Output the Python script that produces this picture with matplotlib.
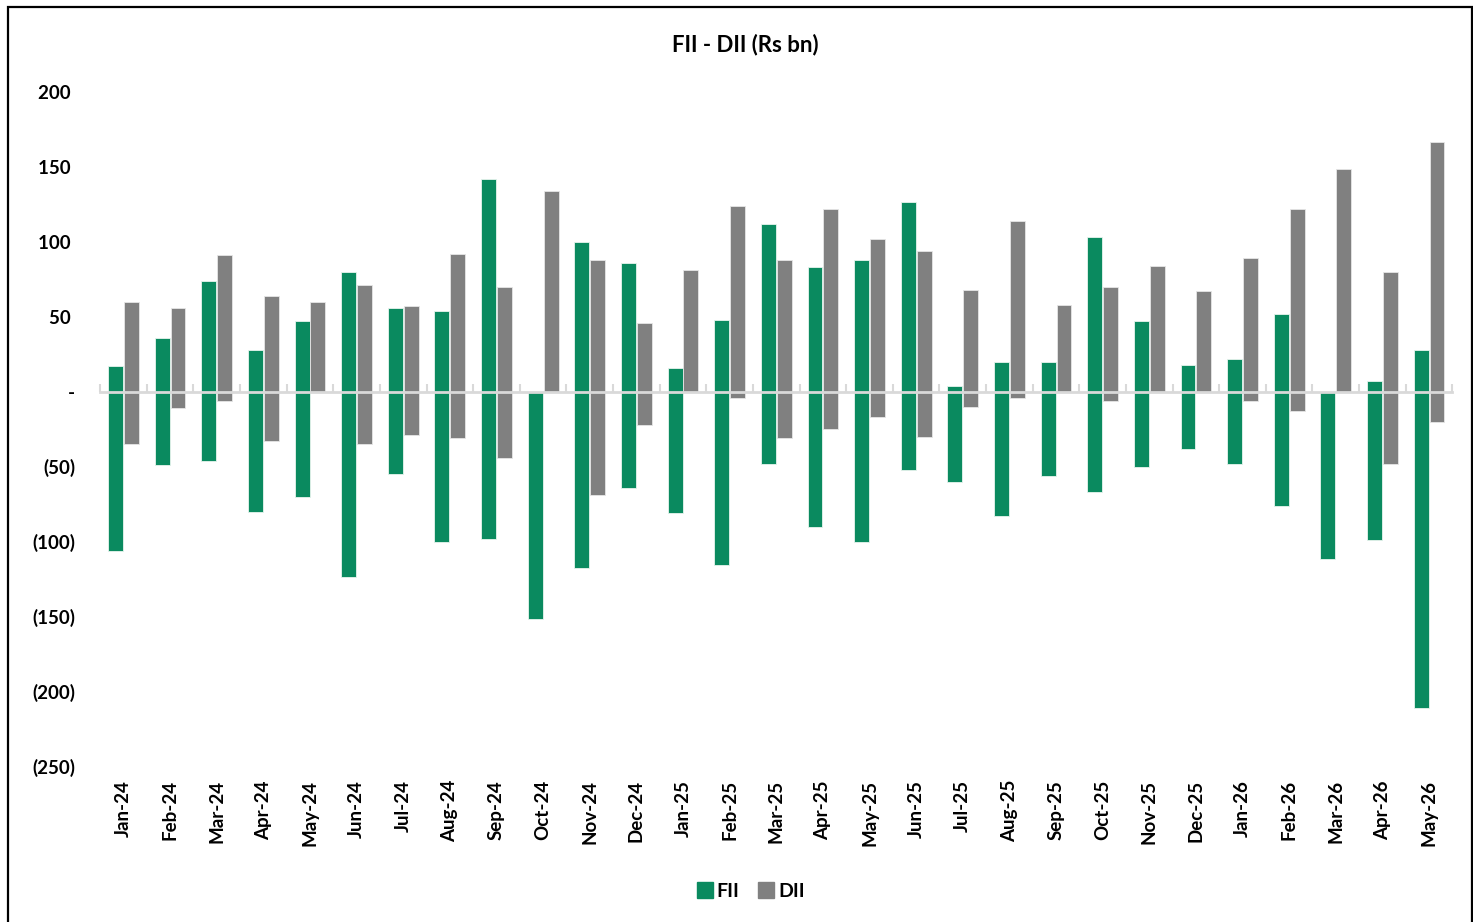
import numpy as np
import matplotlib
matplotlib.use("Agg")
import matplotlib.pyplot as plt
from matplotlib.patches import Rectangle
from matplotlib.lines import Line2D

plt.rcParams['font.family'] = ['Lato', 'DejaVu Sans']
plt.rcParams['font.weight'] = 'bold'

months = ['Jan-24', 'Feb-24', 'Mar-24', 'Apr-24', 'May-24', 'Jun-24', 'Jul-24',
          'Aug-24', 'Sep-24', 'Oct-24', 'Nov-24', 'Dec-24', 'Jan-25', 'Feb-25',
          'Mar-25', 'Apr-25', 'May-25', 'Jun-25', 'Jul-25', 'Aug-25', 'Sep-25',
          'Oct-25', 'Nov-25', 'Dec-25', 'Jan-26', 'Feb-26', 'Mar-26', 'Apr-26',
          'May-26']

# FII: positive part and negative part per month
fii_pos = [17, 36, 74, 28, 47, 80, 56, 54, 142, 0, 100, 86, 16, 48,
           112, 83, 88, 127, 4, 20, 20, 103, 47, 18, 22, 52, 0, 7, 28]
fii_neg = [-106, -49, -46, -80, -70, -124, -55, -100, -98, -152, -118, -64, -81, -116,
           -48, -90, -100, -52, -60, -83, -56, -67, -50, -38, -48, -76, -112, -99, -211]
# DII
dii_pos = [60, 56, 91, 64, 60, 71, 57, 92, 70, 134, 88, 46, 81, 124,
           88, 122, 102, 94, 68, 114, 58, 70, 84, 67, 89, 122, 149, 80, 167]
dii_neg = [-35, -11, -6, -33, 0, -35, -29, -31, -44, 0, -69, -22, 0, -4,
           -31, -25, -17, -30, -10, -4, 0, -6, 0, 0, -6, -13, 0, -48, -20]

green = '#0a8a5f'
grey = '#808080'

fig = plt.figure(figsize=(14.73, 9.22), dpi=100)
ax = fig.add_axes([0.068, 0.169, 0.918, 0.731])

x = np.arange(len(months))
w = 0.32
off = 0.17
ax.bar(x - off, fii_pos, w, color=green, edgecolor='#e8f4ee', linewidth=0.6, zorder=2)
ax.bar(x - off, fii_neg, w, color=green, edgecolor='#e8f4ee', linewidth=0.6, zorder=2)
ax.bar(x + off, dii_pos, w, color=grey, edgecolor='#e6e6e6', linewidth=0.6, zorder=2)
ax.bar(x + off, dii_neg, w, color=grey, edgecolor='#e6e6e6', linewidth=0.6, zorder=2)

ymin, ymax = -250, 200
ax.set_ylim(ymin, ymax)
ax.set_xlim(-0.5, len(months) - 0.5)

yt = np.arange(-250, 201, 50)
def fmt(v):
    if v == 0:
        return '-'
    if v < 0:
        return '(%d)' % -v
    return '%d ' % v
ax.set_yticks(yt)
ax.set_yticklabels([fmt(v) for v in yt], fontsize=13.5, fontweight='bold')
ax.tick_params(axis='y', length=0, pad=18)

ax.set_xticks(x)
ax.set_xticklabels(months, rotation=90, fontsize=13.5, fontweight='bold')
ax.tick_params(axis='x', length=0, pad=10)

for s in ['top', 'right', 'left', 'bottom']:
    ax.spines[s].set_visible(False)

# zero axis line with boundary tick marks
zero_loc = (0 - ymin) / (ymax - ymin)
sec = ax.secondary_xaxis(zero_loc)
sec.set_xticks(np.arange(-0.5, len(months), 1.0))
sec.set_xticklabels([])
sec.tick_params(axis='x', direction='out', length=6, width=1.5, color='#d9d9d9')
for s in sec.spines.values():
    s.set_color('#d9d9d9')
    s.set_linewidth(2)
sec.set_zorder(3)

fig.text(0.506, 0.952, 'FII - DII (Rs bn)', ha='center', va='center',
         fontsize=16, fontweight='bold')

handles = [Line2D([], [], marker='s', linestyle='none', markersize=11,
                  markerfacecolor=green, markeredgecolor=green),
           Line2D([], [], marker='s', linestyle='none', markersize=11,
                  markerfacecolor=grey, markeredgecolor=grey)]
fig.legend(handles, ['FII', 'DII'], loc='center', bbox_to_anchor=(0.509, 0.033),
           ncol=2, frameon=False, fontsize=14, handletextpad=0.1,
           columnspacing=0.9, handlelength=1.0)

fig.patches.append(Rectangle((0.0055, -0.01), 0.9935, 1.0025, transform=fig.transFigure,
                             fill=False, edgecolor='black', linewidth=1.6))

fig.savefig('out.png', dpi=100)
